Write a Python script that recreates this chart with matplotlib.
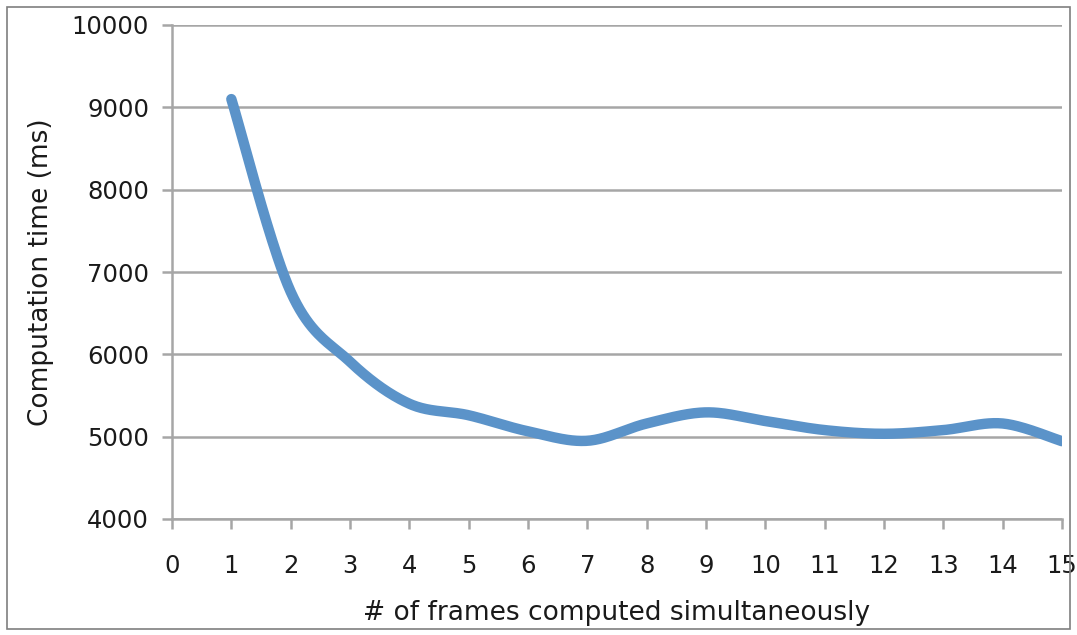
import numpy as np
import matplotlib
matplotlib.use("Agg")
import matplotlib.pyplot as plt
from matplotlib.patches import Rectangle

# frames computed at once vs. computation time
frames = [1, 2, 3, 4, 5, 6, 7, 8, 9, 10, 11, 12, 13, 14, 15]
time_ms = [9100, 6760, 5910, 5400, 5260, 5065, 4950, 5160, 5295, 5190,
           5080, 5035, 5080, 5160, 4945]
x_ticks = list(range(0, 16))
y_ticks = [4000, 5000, 6000, 7000, 8000, 9000, 10000]

LINE_COL = '#5b93c9'
GRID_COL = '#a6a6a6'
TEXT_COL = '#1a1a1a'


def smooth_curve(xs, ys, n=40):
    """Catmull-Rom style smoothing (same as a spreadsheet 'smoothed line')."""
    p = np.column_stack([xs, ys]).astype(float)
    p = np.vstack([p[0], p, p[-1]])
    out = []
    for i in range(1, len(p) - 2):
        p0, p1, p2, p3 = p[i - 1], p[i], p[i + 1], p[i + 2]
        c1 = p1 + (p2 - p0) / 6.0
        c2 = p2 - (p3 - p1) / 6.0
        t = np.linspace(0, 1, n)[:, None]
        seg = ((1 - t) ** 3 * p1 + 3 * (1 - t) ** 2 * t * c1
               + 3 * (1 - t) * t ** 2 * c2 + t ** 3 * p2)
        out.append(seg if i == 1 else seg[1:])
    seg = np.vstack(out)
    return seg[:, 0], seg[:, 1]


plt.rcParams['font.family'] = ['DejaVu Sans']

fig = plt.figure(figsize=(10.77, 6.35), dpi=100)
ax = fig.add_axes([172 / 1077, 116 / 635, 890 / 1077, 494 / 635])

sx, sy = smooth_curve(frames, time_ms)
ax.plot(sx, sy, color=LINE_COL, lw=7.5, solid_capstyle='round', zorder=3)

ax.set_xlim(0, 15)
ax.set_ylim(4000, 10000)
ax.set_xticks(x_ticks)
ax.set_yticks(y_ticks)
ax.yaxis.grid(True, color=GRID_COL, lw=1.8)
ax.set_axisbelow(True)

for side in ['top', 'right']:
    ax.spines[side].set_visible(False)
for side in ['left', 'bottom']:
    ax.spines[side].set_color(GRID_COL)
    ax.spines[side].set_linewidth(1.8)

ax.tick_params(axis='both', colors=GRID_COL, width=1.8, length=7,
               labelcolor=TEXT_COL, labelsize=17.5)
ax.tick_params(axis='x', pad=18)
ax.tick_params(axis='y', pad=9.5)

ax.set_xlabel('# of frames computed simultaneously', fontsize=19,
              color=TEXT_COL, labelpad=16)
ax.set_ylabel('Computation time (ms)', fontsize=19, color=TEXT_COL,
              labelpad=13)

# thin frame around the whole chart
fig.patches.append(Rectangle((7 / 1077, 6 / 635), 1063 / 1077, 622 / 635,
                             transform=fig.transFigure, fill=False,
                             edgecolor='#7f7f7f', lw=1.2))

fig.savefig('out.png', dpi=100)
